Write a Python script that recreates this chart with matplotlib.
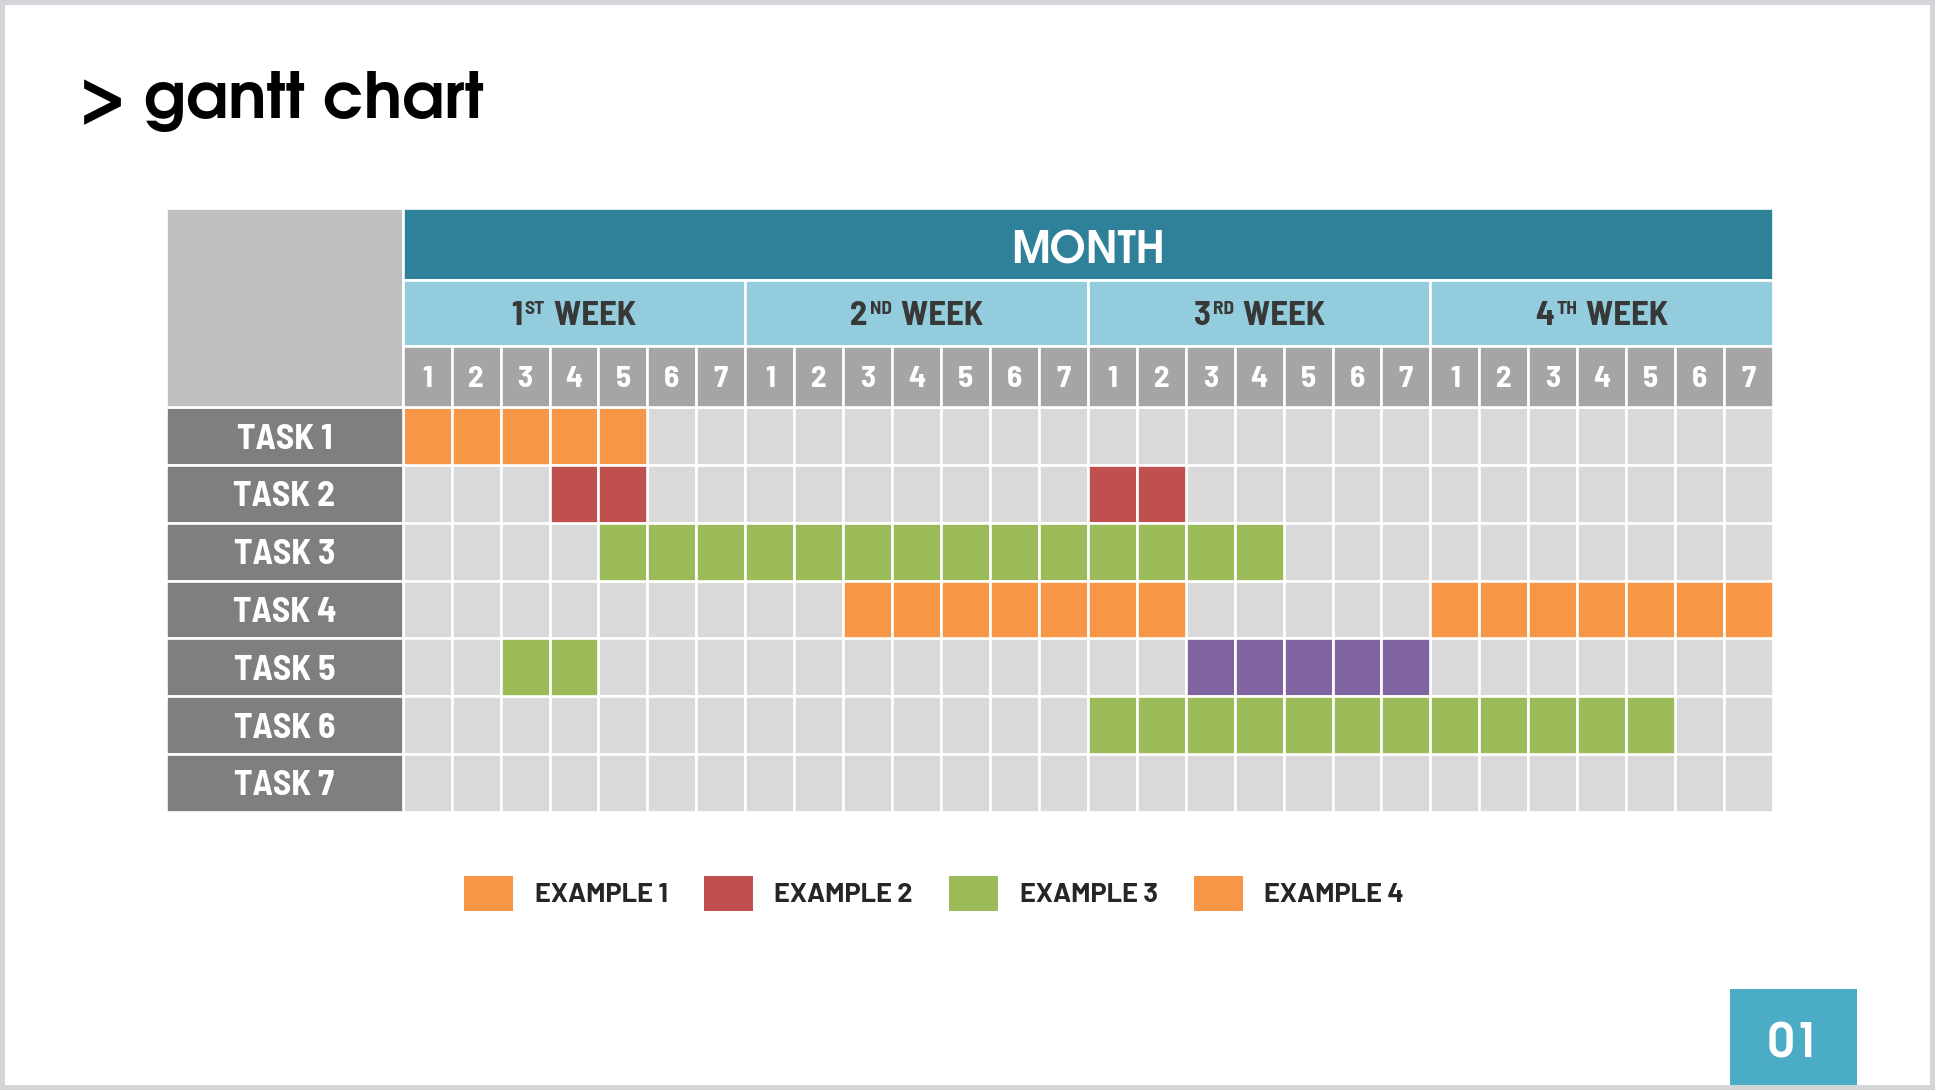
import matplotlib
matplotlib.use("Agg")
import matplotlib.pyplot as plt
from matplotlib.patches import Rectangle, Patch
from matplotlib.offsetbox import TextArea, HPacker, AnnotationBbox

# ---------------- data ----------------
title = "> gantt chart"
month_label = "MONTH"
week_numbers = ["1", "2", "3", "4"]
week_suffixes = ["ST", "ND", "RD", "TH"]
day_labels = [1, 2, 3, 4, 5, 6, 7]
tasks = ["TASK 1", "TASK 2", "TASK 3", "TASK 4", "TASK 5", "TASK 6", "TASK 7"]

# one entry per bar: task row, first day column (0-27), number of days, series
bar_task = [0, 1, 1, 2, 3, 3, 4, 4, 5]
bar_start = [0, 3, 14, 4, 9, 21, 2, 16, 14]
bar_days = [5, 2, 2, 14, 7, 7, 2, 5, 12]
bar_series = ["EXAMPLE 1", "EXAMPLE 2", "EXAMPLE 2", "EXAMPLE 3", "EXAMPLE 4",
              "EXAMPLE 4", "EXAMPLE 3", "OTHER", "EXAMPLE 3"]

legend_labels = ["EXAMPLE 1", "EXAMPLE 2", "EXAMPLE 3", "EXAMPLE 4"]
page_number = "01"

# ---------------- style ----------------
series_colors = {"EXAMPLE 1": "#F79646", "EXAMPLE 2": "#C0504D",
                 "EXAMPLE 3": "#9BBB59", "EXAMPLE 4": "#F79646",
                 "OTHER": "#8064A2"}
C_MONTH = "#2E8199"
C_WEEK = "#93CDDD"
C_DAY = "#A5A5A5"
C_CORNER = "#BFBFBF"
C_TASK = "#7F7F7F"
C_EMPTY = "#D9D9D9"
C_FRAME = "#D3D5D8"
C_PAGE = "#4BACC6"
NARROW = ["Barlow Semi Condensed", "Open Sans Condensed", "DejaVu Sans"]
LEGF = ["Barlow", "Barlow Semi Condensed", "DejaVu Sans"]
GEO = ["TeX Gyre Adventor", "Jost", "Lato", "DejaVu Sans"]

W, H = 1935, 1090
fig = plt.figure(figsize=(W / 100, H / 100), dpi=100)
fig.patch.set_facecolor(C_FRAME)
fig.add_artist(Rectangle((5 / W, 5 / H), (W - 10) / W, (H - 10) / H,
                         transform=fig.transFigure, facecolor="white",
                         edgecolor="none", zorder=0))

n_days = len(day_labels) * len(week_numbers)
label_w = 4.837
hdr_month, hdr_week, hdr_day = 1.2526, 1.1427, 1.062
y_day_top = -0.5 - hdr_day
y_week_top = y_day_top - hdr_week
y_month_top = y_week_top - hdr_month

ax = fig.add_axes([166 / W, 1 - 811.65 / H, 1607 / W, 604 / H])
ax.set_xlim(-label_w, n_days)
ax.set_ylim(len(tasks) - 0.5, y_month_top)
ax.axis("off")

LW = 1.9
# empty cells
for r in range(len(tasks)):
    ax.barh([r] * n_days, 1, left=list(range(n_days)), height=1,
            color=C_EMPTY, edgecolor="white", linewidth=LW)
# task bars (one cell per day)
for t, s, n, ser in zip(bar_task, bar_start, bar_days, bar_series):
    ax.barh([t] * n, 1, left=list(range(s, s + n)), height=1,
            color=series_colors[ser], edgecolor="white", linewidth=LW)
# task label cells
ax.barh(list(range(len(tasks))), label_w, left=-label_w, height=1,
        color=C_TASK, edgecolor="white", linewidth=LW)
for r, name in enumerate(tasks):
    ax.text(-label_w / 2, r, name, ha="center", va="center_baseline",
            color="white", fontsize=25.5, fontweight="bold", family=NARROW)

# header
ax.add_patch(Rectangle((-label_w, y_month_top), label_w, -0.5 - y_month_top,
                       facecolor=C_CORNER, edgecolor="white", linewidth=LW))
ax.add_patch(Rectangle((0, y_month_top), n_days, hdr_month,
                       facecolor=C_MONTH, edgecolor="white", linewidth=LW))
ax.text(n_days / 2, y_month_top + hdr_month / 2 + 0.06, month_label,
        ha="center", va="center_baseline", color="white", fontsize=31,
        fontweight="bold", family=GEO)
for w, (num, suf) in enumerate(zip(week_numbers, week_suffixes)):
    x0 = w * len(day_labels)
    ax.add_patch(Rectangle((x0, y_week_top), len(day_labels), hdr_week,
                           facecolor=C_WEEK, edgecolor="white", linewidth=LW))
    big = dict(color="#383838", fontsize=25, fontweight="bold",
               family=NARROW)
    small = dict(color="#383838", fontsize=14, fontweight="bold",
                 family=NARROW)
    pack = HPacker(children=[TextArea(num, textprops=big),
                             TextArea(suf, textprops=small),
                             TextArea(" WEEK", textprops=big)],
                   align="top", pad=0, sep=1.5)
    ax.add_artist(AnnotationBbox(pack, (x0 + len(day_labels) / 2,
                                        y_week_top + hdr_week / 2 + 0.05),
                                 xycoords="data", frameon=False, pad=0,
                                 box_alignment=(0.5, 0.5)))
    for d, lab in enumerate(day_labels):
        ax.add_patch(Rectangle((x0 + d, y_day_top), 1, hdr_day,
                               facecolor=C_DAY, edgecolor="white",
                               linewidth=LW))
        ax.text(x0 + d + 0.5, y_day_top + hdr_day / 2, str(lab), ha="center",
                va="center_baseline", color="white", fontsize=22.5,
                fontweight="bold", family=NARROW)

# title
fig.text(79 / W, 1 - 118 / H, title, ha="left", va="baseline", color="black",
         fontsize=46, fontweight="bold", family=GEO)

# legend
handles = [Patch(facecolor=series_colors[l], edgecolor="none")
           for l in legend_labels]
leg = fig.legend(handles, legend_labels, loc="center left",
                 bbox_to_anchor=(464 / W, 1 - 893.5 / H), ncol=4,
                 frameon=False, borderpad=0, borderaxespad=0,
                 handlelength=1.81, handleheight=1.59, handletextpad=0.8,
                 columnspacing=1.33,
                 prop={"family": LEGF, "weight": "bold", "size": 19.5})
for txt in leg.get_texts():
    txt.set_color("#262626")

# page number box
fig.add_artist(Rectangle((1730 / W, 5 / H), 127 / W, (1086 - 990) / H,
                         transform=fig.transFigure, facecolor=C_PAGE,
                         edgecolor="none", zorder=1))
fig.text(1794 / W, 1 - 1039.5 / H, page_number, ha="center",
         va="center_baseline", color="white", fontsize=34, fontweight="bold",
         family=GEO, zorder=2)

fig.savefig("out.png", dpi=100, facecolor=fig.get_facecolor())
